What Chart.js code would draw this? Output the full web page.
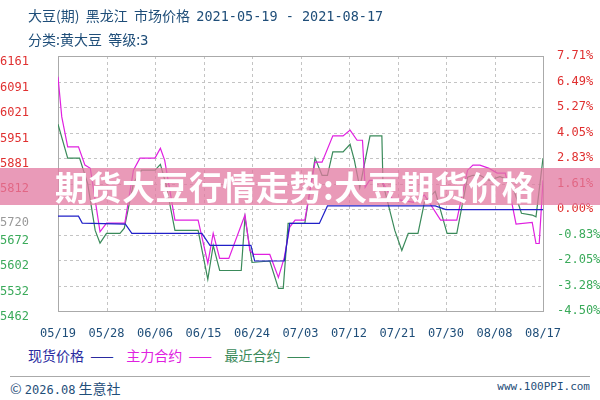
<!DOCTYPE html>
<html><head><meta charset="utf-8">
<script src="https://cdn.jsdelivr.net/npm/chart.js@4"></script>
<style>
body{margin:0;width:600px;height:400px;background:#fff;position:relative;overflow:hidden;font-family:"Noto Sans CJK SC",sans-serif}
#box{position:absolute;left:0;top:0;width:600px;height:345px}
.t{position:absolute;color:#1f4e79;font-size:14px;white-space:pre}
#banner{position:absolute;left:0;top:168px;width:600px;height:37px;background:rgba(225,120,160,0.75);color:#fff;font-weight:bold;font-size:33px;line-height:37px;padding-left:55px;box-sizing:border-box;letter-spacing:0.5px}
</style></head><body>
<div id="box"><canvas id="c"></canvas></div>
<div class="t" style="left:28px;top:5px">大豆(期)  黑龙江  市场价格  <span style="font-family:'DejaVu Sans Mono';font-size:13.5px">2021-05-19 - 2021-08-17</span></div>
<div class="t" style="left:28px;top:29px">分类:黄大豆  等级:<span style="font-family:'DejaVu Sans Mono'">3</span></div>
<div class="t" style="left:28px;top:345px;font-size:14px"><span style="color:#2a2aa0">现货价格  ——</span>    <span style="color:#e020e0">主力合约  ——</span>    <span style="color:#3a8a5a">最近合约  ——</span></div>
<div style="position:absolute;left:10px;top:376px;width:580px;border-top:1px solid #aaa"></div>
<div class="t" style="left:10px;top:378px;color:#1f4e79">© <span style="font-family:'DejaVu Sans Mono';font-size:12px">2026.08</span> 生意社</div>
<div class="t" style="right:10px;top:380px;font-family:'DejaVu Sans Mono';font-size:11px">www.100PPI.com</div>
<div id="banner">期货大豆行情走势:大豆期货价格</div>
<script>
const dateLabels=["05/19","05/28","06/06","06/15","06/24","07/03","07/12","07/21","07/30","08/08","08/17"];
const leftTicks=[6161,6091,6021,5951,5881,5812,5720,5672,5602,5532,5462];
const rightTicks=["7.71%","6.49%","5.27%","4.05%","2.83%","1.61%","0.00%","-0.83%","-2.05%","-3.28%","-4.50%"];
const spotDays=[0,3.8,4.5,12.5,13.7,26.7,28.2,35.8,36.5,42,43,48.5,50,70,72,90];
const spotVals=[5722,5722,5703,5700,5675,5675,5642,5642,5599,5599,5702,5702,5750,5750,5740,5740];
const mainDays=[0,0.7,1.8,3.8,5,6,7.8,9,12.4,14,15.2,18,19,19.8,21.7,26,27.8,28.8,30,31.7,34.7,35.6,36.3,39.3,40.9,42,43,44,45.8,47.7,49,51,52.9,54.2,55.5,56.5,57,57.8,60,62,66,68,71,74,76,77,78.3,80,81.5,83,84.2,85,88,88.7,89.3,90];
const mainVals=[6104,5994,5912,5912,5862,5853,5679,5703,5703,5848,5881,5881,5908,5875,5711,5711,5593,5675,5606,5606,5725,5628,5617,5617,5554,5609,5692,5711,5711,5870,5870,5942,5942,5958,5930,5930,5801,5820,5820,5770,5760,5780,5711,5711,5848,5862,5862,5853,5840,5840,5760,5700,5705,5647,5647,5820,5840,5842];
const nearDays=[0,1.8,4,5.5,6.9,7.8,9,11.5,12.3,14,15.5,18,19,20,21.7,26,27.8,28.8,30,34,34.7,36,39.3,40.9,41.8,42.7,44,45.8,47.7,49,50,51,52.9,54.2,55,56,57.9,60.1,60.3,62.5,63.8,65,66.8,68,70,72.2,74,76,77,78.3,80,82,84,86,88,88.7,90];
const nearVals=[5974,5881,5881,5812,5683,5648,5675,5675,5689,5812,5848,5848,5864,5812,5683,5683,5549,5642,5573,5573,5719,5595,5599,5524,5524,5702,5702,5702,5881,5834,5834,5898,5898,5919,5875,5800,5942,5942,5812,5683,5628,5675,5675,5760,5790,5675,5675,5829,5834,5834,5820,5830,5820,5730,5725,5720,5881,5848];
const pts=(d,v)=>d.map((x,i)=>({x,y:v[i]}));
const tickCol=v=>v>5720?'#e03030':(v<5720?'#3aaa5a':'#999');
new Chart(document.getElementById('c'),{
type:'line',
data:{datasets:[
{label:'现货价格',data:pts(spotDays,spotVals),borderColor:'#2020c8',borderWidth:1.2,pointRadius:0,tension:0},
{label:'主力合约',data:pts(mainDays,mainVals),borderColor:'#e020e0',borderWidth:1.2,pointRadius:0,tension:0},
{label:'最近合约',data:pts(nearDays,nearVals),borderColor:'#3a8a5a',borderWidth:1.2,pointRadius:0,tension:0}]},
options:{responsive:true,maintainAspectRatio:false,animation:false,
layout:{padding:{top:56,left:0,right:0,bottom:0}},
plugins:{legend:{display:false},tooltip:{enabled:false}},
scales:{
x:{type:'linear',min:0,max:90,
afterBuildTicks:s=>{s.ticks=dateLabels.map((_,i)=>({value:i*9}));},
afterFit:s=>{s.height=34;},
ticks:{autoSkip:false,maxRotation:0,color:'#1f4e79',font:{family:'DejaVu Sans Mono',size:12},padding:8,callback:(v)=>dateLabels[Math.round(v/9)]},
grid:{display:false},border:{display:false}},
y:{min:5462,max:6161,position:'left',
afterBuildTicks:s=>{s.ticks=leftTicks.map(v=>({value:v}));},
afterFit:s=>{s.width=58;},
ticks:{color:c=>tickCol(c.tick.value),font:{family:'DejaVu Sans Mono',size:12},padding:4,align:'start',crossAlign:'far',callback:v=>String(v)},
grid:{display:false},border:{display:false}},
y2:{min:-4.50,max:7.71,position:'right',
afterBuildTicks:s=>{s.ticks=rightTicks.map((_,i)=>({value:7.71-i*1.221}));},
afterFit:s=>{s.width=57;},
ticks:{color:c=>{const v=c.tick.value;return v>0.01?'#e03030':(v<-0.01?'#3aaa5a':'#999')},font:{family:'DejaVu Sans Mono',size:12},padding:6,callback:(v,i)=>rightTicks[i]},
grid:{display:false},border:{display:false}}
}},
plugins:[{id:'grid',beforeDatasetsDraw(ch){const a=ch.chartArea,x=ch.ctx;x.save();x.strokeStyle='#c4c4c4';x.lineWidth=1;x.setLineDash([3,3]);
ch.scales.x.ticks.forEach(t=>{const px=Math.round(ch.scales.x.getPixelForValue(t.value))+.5;x.beginPath();x.moveTo(px,a.top);x.lineTo(px,a.bottom);x.stroke();});
ch.scales.y2.ticks.forEach(t=>{const py=Math.round(ch.scales.y2.getPixelForValue(t.value))+.5;x.beginPath();x.moveTo(a.left,py);x.lineTo(a.right,py);x.stroke();});
x.setLineDash([]);x.strokeStyle='#aaa';x.strokeRect(a.left+.5,a.top+.5,a.width,a.height);x.restore();}}]
});
</script></body></html>
